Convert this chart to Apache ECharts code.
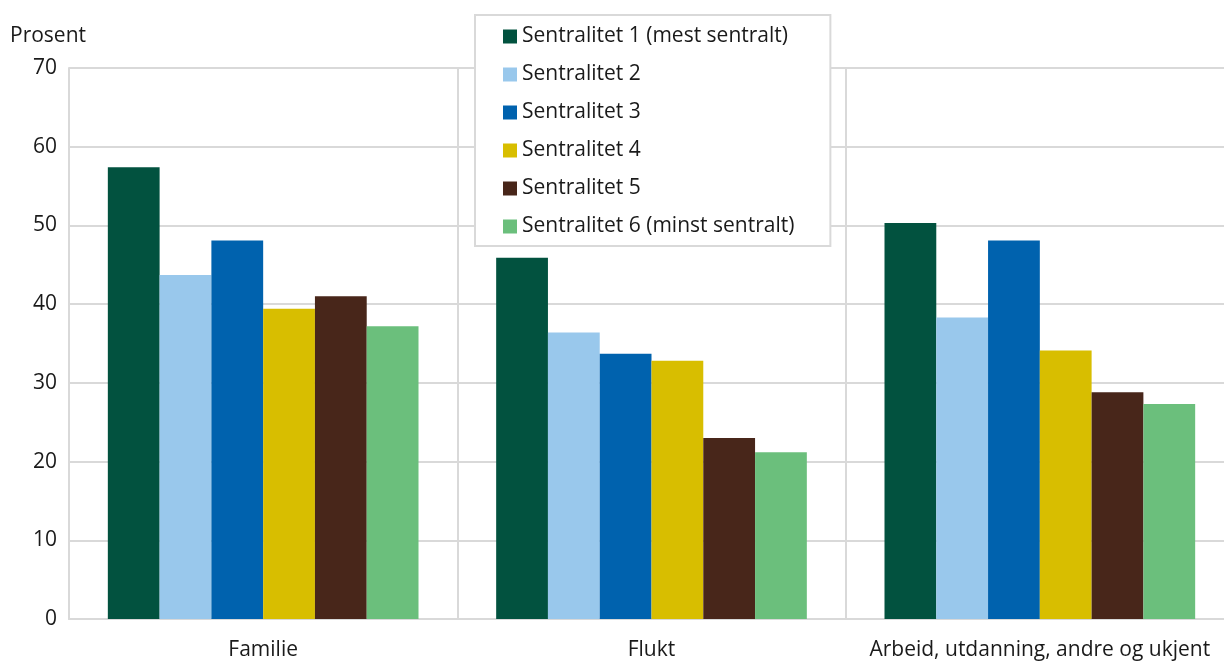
<!DOCTYPE html>
<html><head><meta charset="utf-8">
<script src="https://cdn.jsdelivr.net/npm/echarts@6/dist/echarts.min.js"></script>
<style>html,body{margin:0;padding:0;background:#fff;overflow:hidden}#c{width:1234px;height:661px}</style>
</head><body><div id="c"></div>
<script>
const categories = ['Familie', 'Flukt', 'Arbeid, utdanning, andre og ukjent'];
const seriesNames = ['Sentralitet 1 (mest sentralt)', 'Sentralitet 2', 'Sentralitet 3', 'Sentralitet 4', 'Sentralitet 5', 'Sentralitet 6 (minst sentralt)'];
const s1 = [57.4, 45.9, 50.3];
const s2 = [43.7, 36.4, 38.3];
const s3 = [48.1, 33.7, 48.1];
const s4 = [39.4, 32.8, 34.1];
const s5 = [41.0, 23.0, 28.8];
const s6 = [37.2, 21.2, 27.3];
const yTicks = [0, 10, 20, 30, 40, 50, 60, 70];
const colors = ['#02523f', '#99c8ec', '#0062ae', '#d8be00', '#48261a', '#6bbf7c'];
const allData = [s1, s2, s3, s4, s5, s6];
const font = "'Open Sans', 'Noto Sans', sans-serif";

const chart = echarts.init(document.getElementById('c'));
chart.setOption({
  animation: false,
  textStyle: { fontFamily: font },
  graphic: [{ type: 'text', left: 10, top: 26, style: { text: 'Prosent', font: '21px ' + font, fill: '#1a1a1a' } }],
  legend: {
    orient: 'vertical', left: 475, top: 15,
    padding: [11, 36, 9, 28],
    itemGap: 17, itemWidth: 14, itemHeight: 14,
    backgroundColor: '#fff', borderColor: '#d9d9d9', borderWidth: 2,
    textStyle: { fontSize: 21, color: '#1a1a1a', fontFamily: font },
    icon: 'rect',
    data: seriesNames
  },
  grid: { left: 69, top: 68, right: 0, bottom: 41, containLabel: false },
  xAxis: {
    type: 'category', data: categories,
    axisLine: { lineStyle: { color: '#d9d9d9', width: 2 } },
    axisTick: { show: false },
    splitLine: { show: true, interval: 0, lineStyle: { color: '#d9d9d9', width: 2 } },
    axisLabel: { interval: 0, fontSize: 21, color: '#1a1a1a', margin: 21, fontFamily: font }
  },
  yAxis: {
    type: 'value', min: yTicks[0], max: yTicks[yTicks.length - 1], interval: 10,
    axisLine: { show: true, lineStyle: { color: '#d9d9d9', width: 2 } },
    axisTick: { show: false },
    splitLine: { lineStyle: { color: '#d9d9d9', width: 2 } },
    axisLabel: { fontSize: 21, color: '#1a1a1a', margin: 12, fontFamily: font }
  },
  series: seriesNames.map((n, i) => ({
    name: n, type: 'bar', data: allData[i],
    barGap: '0%', barCategoryGap: '20%',
    itemStyle: { color: colors[i] }
  }))
});
</script></body></html>
